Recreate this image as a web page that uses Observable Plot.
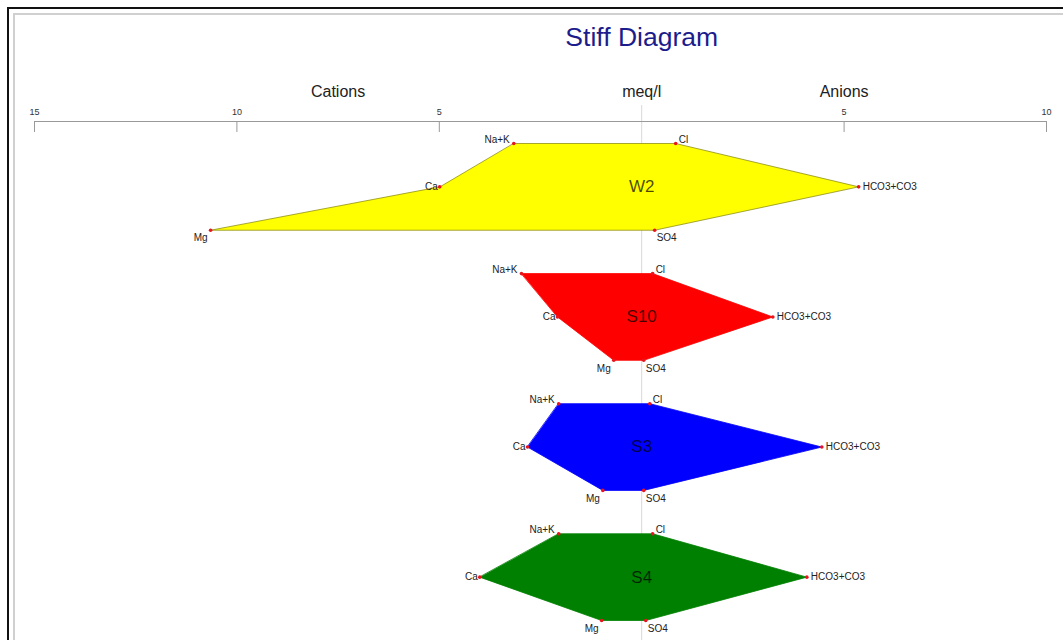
<!DOCTYPE html>
<html><head><meta charset="utf-8">
<script src="https://cdn.jsdelivr.net/npm/d3@7"></script>
<script src="https://cdn.jsdelivr.net/npm/@observablehq/plot@0.6"></script>
<style>
body{margin:0;background:#fff;overflow:hidden}
#wrap{position:relative;width:1063px;height:640px;overflow:hidden;background:#fff}
#wrap svg{position:absolute;left:0;top:0}
.b1{position:absolute;left:7px;top:7px;width:2000px;height:2000px;border-left:2px solid #111;border-top:2px solid #111;pointer-events:none}
.b2{position:absolute;left:13px;top:13px;width:2000px;height:2000px;border-left:2px solid #d0d0d0;border-top:2px solid #d0d0d0;pointer-events:none}
</style></head><body><div id="wrap"></div>
<script>
// ---- data (meq/l) ----
const samples = ["W2", "S10", "S3", "S4"];
const sampleColors = ["yellow", "red", "blue", "green"];
const naK  = [3.16, 2.97, 2.05, 2.05];
const ca   = [4.99, 2.08, 2.82, 4.00];
const mg   = [10.65, 0.69, 0.96, 0.99];
const cl   = [0.84, 0.27, 0.20, 0.27];
const hco3 = [5.36, 3.24, 4.45, 4.08];
const so4  = [0.32, 0.05, 0.05, 0.10];
const tickValues = [-15, -10, -5, 5, 10];
const sideLabels = ["Cations", "meq/l", "Anions"];
const title = "Stiff Diagram";

// ---- build vertices (polygon order) ----
const vertices = [];
samples.forEach((s, i) => {
  const r = i * 3;
  const c = sampleColors[i];
  vertices.push(
    {sample: s, color: c, ion: "Na+K", v: -naK[i], row: r, pos: "lt"},
    {sample: s, color: c, ion: "Cl", v: cl[i], row: r, pos: "rt"},
    {sample: s, color: c, ion: "HCO3+CO3", v: hco3[i], row: r + 1, pos: "rm"},
    {sample: s, color: c, ion: "SO4", v: so4[i], row: r + 2, pos: "rb"},
    {sample: s, color: c, ion: "Mg", v: -mg[i], row: r + 2, pos: "lb"},
    {sample: s, color: c, ion: "Ca", v: -ca[i], row: r + 1, pos: "lm"}
  );
});
const sampleRows = samples.map((s, i) => ({sample: s, row: i * 3 + 1}));
const domainX = [-15, 10];
const sideData = [
  {t: sideLabels[0], x: domainX[0] / 2},
  {t: sideLabels[1], x: 0},
  {t: sideLabels[2], x: domainX[1] / 2}
];

const placements = {
  lt: {textAnchor: "end", dx: -4, dy: -4},
  rt: {textAnchor: "start", dx: 3, dy: -4},
  lm: {textAnchor: "end", dx: -2, dy: 0},
  rm: {textAnchor: "start", dx: 4, dy: 0},
  lb: {textAnchor: "end", dx: -3, dy: 8},
  rb: {textAnchor: "start", dx: 2, dy: 8}
};
const ionLabelMarks = Object.entries(placements).map(([p, o]) =>
  Plot.text(vertices.filter(d => d.pos === p), {
    x: "v", y: "row", text: "ion", fontSize: 10, fill: "#222", ...o
  })
);

const chart = Plot.plot({
  width: 1063, height: 640,
  marginTop: 131, marginBottom: 0, marginLeft: 34, marginRight: 17,
  style: {background: "transparent", fontFamily: "'Liberation Sans', Arial, sans-serif", overflow: "visible"},
  x: {domain: domainX, label: null},
  y: {domain: [0, 11], range: [143, 620], axis: null},
  color: {type: "identity"},
  marks: [
    Plot.ruleX([0], {stroke: "#d8d8d8", insetTop: -26}),
    Plot.frame({anchor: "top", dy: -10, stroke: "#999"}),
    Plot.axisX(tickValues, {anchor: "top", tickSize: 10, tickFormat: () => "", stroke: "#999", label: null}),
    Plot.text(tickValues, {x: d => d, text: d => Math.abs(d), frameAnchor: "top", lineAnchor: "middle", dy: -19, fontSize: 9, fill: "#333"}),
    Plot.text(sideData, {x: "x", text: "t", frameAnchor: "top", lineAnchor: "middle", dy: -40, fontSize: 16, fill: "#222"}),
    Plot.text([title], {x: () => 0, text: d => d, frameAnchor: "top", lineAnchor: "middle", dy: -94, fontSize: 26.5, fill: "#1c1c8c"}),
    Plot.line(vertices, {
      x: "v", y: "row", z: "sample", curve: "linear-closed",
      fill: "color", stroke: d => d.color === "yellow" ? "#8f8f1a" : d.color, strokeWidth: 0.8
    }),
    Plot.text(sampleRows, {x: () => 0, y: "row", text: "sample", fontSize: 17, fill: "#000", fillOpacity: 0.72}),
    Plot.dot(vertices, {x: "v", y: "row", r: 1.8, fill: "#e8141e", stroke: null}),
    ...ionLabelMarks
  ]
});
const wrap = document.getElementById("wrap");
wrap.appendChild(chart);
const b1 = document.createElement("div"); b1.className = "b1"; wrap.appendChild(b1);
const b2 = document.createElement("div"); b2.className = "b2"; wrap.appendChild(b2);
</script>
</body></html>
